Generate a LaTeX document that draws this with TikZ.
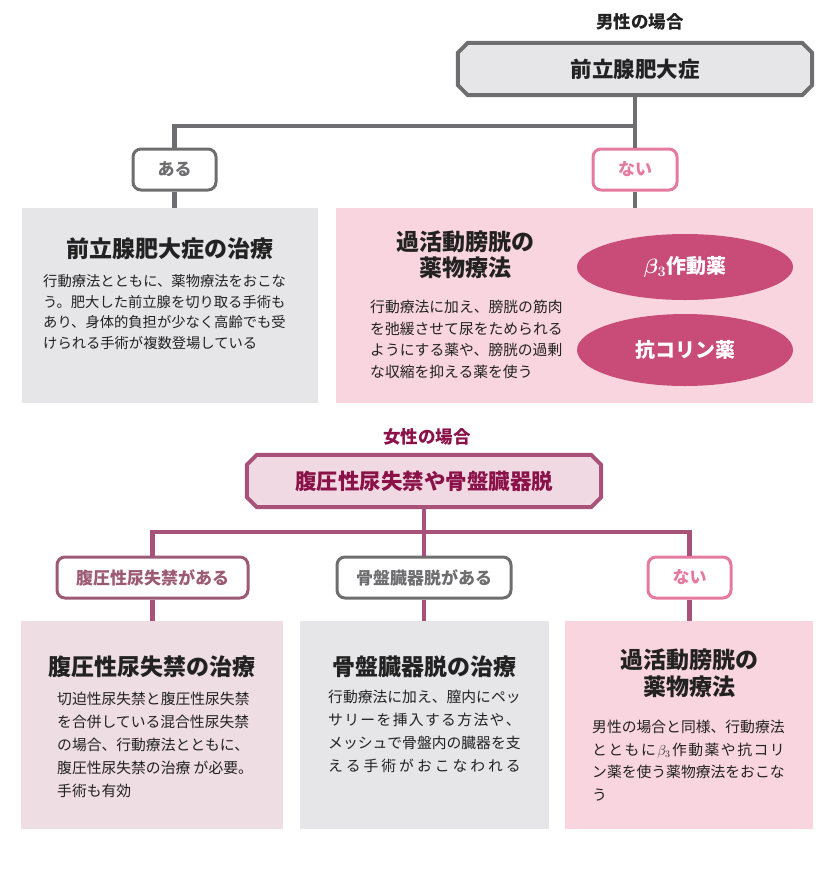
\documentclass[tikz,border=0pt]{standalone}
\usepackage{fontspec}
\setmainfont{Noto Sans CJK JP}
\usetikzlibrary{shapes.geometric,backgrounds}

\definecolor{lineGray}{HTML}{6E6E70}
\definecolor{boxGray}{HTML}{E6E6E8}
\definecolor{boxPink}{HTML}{F9D5DF}
\definecolor{linePink}{HTML}{E57A9F}
\definecolor{ovalPink}{HTML}{C84B78}
\definecolor{lineMauve}{HTML}{A8527A}
\definecolor{headMauve}{HTML}{F0D9E2}
\definecolor{boxMauve}{HTML}{EEDDE3}
\definecolor{textMauve}{HTML}{8B1149}
\definecolor{tagMauve}{HTML}{9C5A74}
\definecolor{textDark}{HTML}{222222}

\makeatletter
\def\spreadline#1#2{\makebox[#1][s]{\let\sp@sep\@empty\@tfor\sp@c:=#2\do{\sp@sep\sp@c\def\sp@sep{\hfil}}}}
\makeatother
\def\octframe[#1](#2)(#3){\draw[#1] ([xshift=#3]#2.north west) -- ([xshift=-#3]#2.north east) -- ([yshift=-#3]#2.north east) -- ([yshift=#3]#2.south east) -- ([xshift=-#3]#2.south east) -- ([xshift=#3]#2.south west) -- ([yshift=#3]#2.south west) -- ([yshift=-#3]#2.north west) -- cycle;}

\tikzset{
	headline/.style={inner sep=0, font=\bfseries\fontsize{17.5}{20}\selectfont},
	mainbox/.style={rectangle, minimum width=354pt, minimum height=52pt, inner sep=0, font=\bfseries\fontsize{21.5}{24}\selectfont},
	tagbox/.style={rounded corners=8pt, line width=3pt, fill=white, minimum height=41pt, inner sep=0, font=\bfseries\fontsize{17}{20}\selectfont},
	panel/.style={inner sep=0, draw=none},
	paneltitle/.style={inner sep=0, align=center, text=textDark, font=\bfseries\fontsize{23}{27}\selectfont},
	paneltext/.style={inner sep=0, align=left, anchor=north west, text=textDark},
	oval/.style={ellipse, fill=ovalPink, text=white, minimum width=216pt, inner sep=0, font=\bfseries\fontsize{20}{24}\selectfont},
	linkgray/.style={line width=4.5pt, draw=lineGray},
	linkmauve/.style={line width=4.5pt, draw=lineMauve},
}

\begin{document}
\begin{tikzpicture}[x=1pt, y=-1pt]
		%%%%% START %%%%%
		\useasboundingbox (0, 0) rectangle (835, 871);
		
		\node[headline, text=textDark] (male) at (640, 22) {男性の場合};
		\node[mainbox, text=textDark] (bph) at (635, 69) {前立腺肥大症};
		\begin{pgfonlayer}{background}
			\octframe[line width=4pt, draw=lineGray, fill=boxGray](bph)(10pt)
		\end{pgfonlayer}
		
		\node[tagbox, draw=lineGray, text=lineGray, minimum width=83pt] (bphyes) at (174.5, 169.5) {ある};
		\node[tagbox, draw=linePink, text=linePink, minimum width=84pt] (bphno) at (635, 169.5) {ない};
		
		\node[panel, fill=boxGray, minimum width=296pt, minimum height=195pt] (bphcare) at (170, 305.5) {};
		\node[panel, fill=boxPink, minimum width=477pt, minimum height=195pt] (oabcare) at (574.5, 305.5) {};
		
		\node[paneltitle] (bphtitle) at (170, 249) {前立腺肥大症の治療};
		\node[paneltext, font=\fontsize{14.3}{20.8}\selectfont] (bphtext) at (43, 274) {行動療法とともに、薬物療法をおこな\\う。肥大した前立腺を切り取る手術も\\あり、身体的負担が少なく高齢でも受\\けられる手術が複数登場している};
		
		\node[paneltitle, font=\bfseries\fontsize{23}{26}\selectfont] (oabtitle) at (465, 255) {過活動膀胱の\\薬物療法};
		\node[paneltext, font=\fontsize{14.8}{21.5}\selectfont] (oabtext) at (370, 300) {行動療法に加え、膀胱の筋肉\\を弛緩させて尿をためられる\\ようにする薬や、膀胱の過剰\\な収縮を抑える薬を使う};
		
		\node[oval, minimum height=66pt] (beta) at (685, 267) {{\boldmath$\beta_3$}作動薬};
		\node[oval, minimum height=72pt] (anticho) at (685, 350) {抗コリン薬};
		
		\coordinate (mbranch) at (635, 126);
		\draw[linkgray] (bph.south) -- (bphno.north);
		\draw[linkgray] (mbranch) -| (bphyes.north);
		\draw[linkgray] (bphyes.south) -- (bphcare.north -| bphyes.south);
		\draw[linkgray] (bphno.south) -- (oabcare.north -| bphno.south);
		
		\node[headline, text=textMauve] (female) at (427, 437) {女性の場合};
		\node[mainbox, text=textMauve] (pop) at (424, 481) {腹圧性尿失禁や骨盤臓器脱};
		\begin{pgfonlayer}{background}
			\octframe[line width=4pt, draw=lineMauve, fill=headMauve](pop)(10pt)
		\end{pgfonlayer}
		
		\node[tagbox, draw=tagMauve, text=tagMauve, minimum width=191pt] (siuyes) at (152.5, 577.5) {腹圧性尿失禁がある};
		\node[tagbox, draw=lineGray, text=lineGray, minimum width=174pt] (popyes) at (424, 577.5) {骨盤臓器脱がある};
		\node[tagbox, draw=linePink, text=linePink, minimum width=83pt] (popno) at (689.5, 577.5) {ない};
		
		\node[panel, fill=boxMauve, minimum width=262pt, minimum height=208pt] (siucare) at (152, 725) {};
		\node[panel, fill=boxGray, minimum width=249pt, minimum height=208pt] (popcare) at (424.5, 725) {};
		\node[panel, fill=boxPink, minimum width=248pt, minimum height=208pt] (oabcare2) at (689, 725) {};
		
		\node[paneltitle] (siutitle) at (152, 667) {腹圧性尿失禁の治療};
		\node[paneltext, font=\fontsize{14.8}{23}\selectfont] (siutext) at (57, 692) {切迫性尿失禁と腹圧性尿失禁\\を合併している混合性尿失禁\\の場合、行動療法とともに、\\腹圧性尿失禁の治療 が必要。\\手術も有効};
		
		\node[paneltitle] (poptitle) at (424.5, 667) {骨盤臓器脱の治療};
		\node[paneltext, font=\fontsize{14.8}{23}\selectfont] (poptext) at (328, 690) {行動療法に加え、膣内にペッ\\\spreadline{192.4pt}{サリーを挿入する方法や、}\\メッシュで骨盤内の臓器を支\\\spreadline{192.4pt}{える手術がおこなわれる}};
		
		\node[paneltitle, font=\bfseries\fontsize{23}{27}\selectfont] (oab2title) at (689, 673.5) {過活動膀胱の\\薬物療法};
		\node[paneltext, font=\fontsize{14.8}{22.5}\selectfont] (oab2text) at (592, 720) {男性の場合と同様、行動療法\\\makebox[192.4pt][s]{と\hfil と\hfil も\hfil に\hfil $\beta_3$\hfil 作\hfil 動\hfil 薬\hfil や\hfil 抗\hfil コ\hfil リ}\\ン薬を使う薬物療法をおこな\\う};
		
		\coordinate (fbranch) at (424, 532);
		\draw[linkmauve] (pop.south) -- (popyes.north);
		\draw[linkmauve] (siuyes.north) |- (fbranch) -| (popno.north);
		\draw[linkmauve] (siuyes.south) -- (siucare.north -| siuyes.south);
		\draw[linkmauve] (popyes.south) -- (popcare.north -| popyes.south);
		\draw[linkmauve] (popno.south) -- (oabcare2.north -| popno.south);
		
		%%%%% END %%%%%
\end{tikzpicture}
\end{document}
